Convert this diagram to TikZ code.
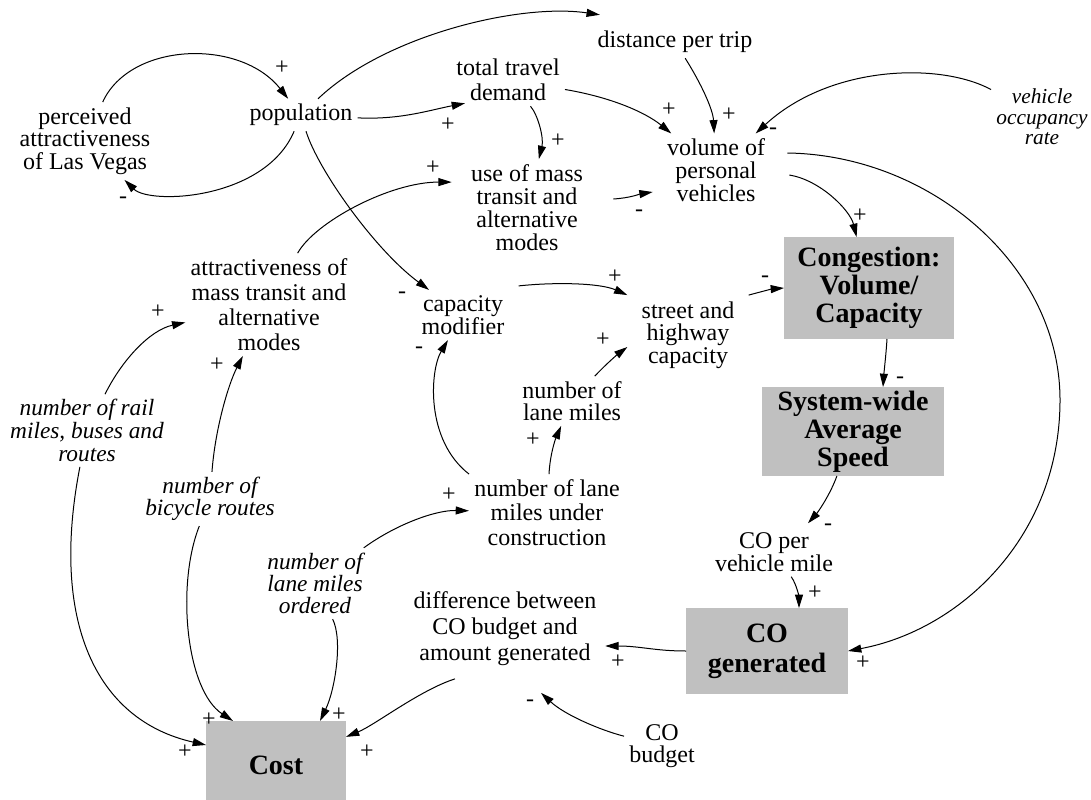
\documentclass[tikz,border=0pt]{standalone}
\usepackage{fontspec}
\setmainfont{Liberation Serif}
\usetikzlibrary{arrows.meta}
\definecolor{boxgray}{HTML}{C0C0C0}
\tikzset{
  lbl/.style={font=\fontsize{18}{#1}\selectfont, align=center, inner sep=1pt, outer sep=3pt},
  ilbl/.style={font=\fontsize{17.5}{#1}\selectfont\itshape, align=center, inner sep=1pt, outer sep=3pt},
  gbox/.style={fill=boxgray, font=\fontsize{21}{#1}\selectfont\bfseries, align=center, inner sep=0pt, outer sep=0pt},
  sgn/.style={font=\fontsize{18}{18}\selectfont, inner sep=0pt},
  arr/.style={-{Triangle[length=10pt,width=6pt]}, line width=0.75pt},
}
\begin{document}
\begin{tikzpicture}[x=0.75pt,y=-0.75pt]
\useasboundingbox (0,0) rectangle (1091,799);
% text nodes
\node[lbl=17] (pav) at (85,141) {perceived\\attractiveness\\of Las Vegas};
\node[lbl=18] (pop) at (301,115) {population};
\node[lbl=18] (dpt) at (675,42) {distance per trip};
\node[lbl=18.75] (ttd) at (508,80) {total travel\\demand};
\node[lbl=17] (vol) at (716,170) {volume of\\personal\\vehicles};
\node[ilbl=15.5, font=\fontsize{16}{15.5}\selectfont\itshape] (vor) at (1042,117) {vehicle\\occupancy\\rate};
\node[lbl=17.25] (use) at (527,207.5) {use of mass\\transit and\\alternative\\modes};
\node[lbl=18.75] (attr) at (269,304.5) {attractiveness of\\mass transit and\\alternative\\modes};
\node[lbl=16] (capmod) at (463,315) {capacity\\modifier};
\node[lbl=17] (street) at (688,335) {street and\\highway\\capacity};
\node[lbl=16.5] (lanemiles) at (572,401) {number of\\lane miles};
\node[lbl=18.4] (constr) at (547,512.5) {number of lane\\miles under\\construction};
\node[ilbl=17] (rail) at (87,430.5) {number of rail\\miles, buses and\\routes};
\node[ilbl=16.5] (bike) at (210,499) {number of\\bicycle routes};
\node[ilbl=16.5] (ordered) at (315,583.5) {number of\\lane miles\\ordered};
\node[lbl=19.5] (diff) at (505,628.5) {difference between\\CO budget and\\amount generated};
\node[lbl=17] (copvm) at (774,552) {CO per\\vehicle mile};
\node[lbl=16.5] (budget) at (662,746) {CO\\budget};
% boxes
\node[gbox=21, minimum width=127.5pt, minimum height=76.5pt] (cong) at (869,288) {Congestion:\\Volume/\\Capacity};
\node[gbox=21, minimum width=136.5pt, minimum height=66.75pt] (sys) at (853,431.5) {System-wide\\Average\\Speed};
\node[gbox=22.5, minimum width=121.5pt, minimum height=64.5pt] (cog) at (767,651) {CO\\generated};
\node[gbox=21, minimum width=105pt, minimum height=66.75pt] (cost) at (276,765.5) {Cost};
% connectors
\draw[arr] (pav) .. controls (130,42) and (240,38) .. (pop);
\draw[arr] (pop) .. controls (265,200) and (150,205) .. (pav);
\draw[arr] (pop) .. controls (385,35) and (520,3) .. ([shift={(7.5,-11)}]dpt.north west);
\draw[arr] (pop) .. controls (400,120) and (430,110) .. ([shift={(14,-3)}]ttd.south west);
\draw[arr] (pop) .. controls (318,170) and (375,250) .. (capmod);
\draw[arr] (attr) .. controls (315,222) and (390,182) .. ([shift={(-14,23)}]use.north west);
\draw[arr] (ttd) .. controls (538,115) and (544,138) .. (use);
\draw[arr] (ttd) .. controls (610,97) and (645,112) .. (vol);
\draw[arr] (dpt) .. controls (702,85) and (713,110) .. (vol);
\draw[arr] (vor) .. controls (940,62) and (830,65) .. (vol);
\draw[arr] ([shift={(25,-8.5)}]use.east) .. controls (630,198) and (640,194) .. ([shift={(-9,22)}]vol.west);
\draw[arr] ([shift={(19,5)}]vol.east) .. controls (820,180) and (850,210) .. (cong);
\coordinate (arcR) at (1060,400);
\draw[arr] ([shift={(17,-17)}]vol.east) .. controls (930,155) and (1060,265) .. (arcR) .. controls (1060,537) and (960,630) .. (cog.east);
\draw[arr] (rail) .. controls (122,360) and (150,330) .. (attr);
\draw[arr] (bike) .. controls (215,430) and (228,385) .. (attr);
\draw[arr] (constr.north west) .. controls (425,440) and (430,370) .. (capmod);
\draw[arr] ([shift={(9,-4)}]capmod.north east) .. controls (555,282) and (600,283) .. ([shift={(-9,-1)}]street.north west);
\draw[arr] (lanemiles) .. controls (605,365) and (618,354) .. ([shift={(-9,12)}]street.west);
\draw[arr] (constr) .. controls (550,455) and (555,440) .. (lanemiles);
\draw[arr] (ordered) .. controls (395,525) and (435,510) .. (constr);
\draw[arr] ([shift={(9,-1)}]street.north east) .. controls (760,292) and (772,289) .. (cong.west);
\draw[arr] ([shift={(18,0)}]cong.south) .. controls (886,355) and (884,372) .. ([shift={(30,0)}]sys.north);
\draw[arr] (sys) .. controls (830,495) and (818,512) .. ([shift={(34,-4)}]copvm.north);
\draw[arr] (copvm) .. controls (797,585) and (799,598) .. ([shift={(32,0)}]cog.north);
\draw[arr] (cog.west) .. controls (655,651) and (640,646) .. ([shift={(3.5,17.5)}]diff.east);
\draw[arr] (budget) .. controls (600,730) and (565,715) .. ([shift={(36,22)}]diff.south);
\draw[arr] ([shift={(-50,8)}]diff.south) .. controls (420,690) and (375,725) .. (cost);
\draw[arr] (ordered) .. controls (343,640) and (335,690) .. ([shift={(44,0)}]cost.north);
\draw[arr] (bike) .. controls (176,585) and (186,690) .. ([shift={(27,0)}]cost.north west);
\draw[arr] (rail) .. controls (50,620) and (95,720) .. ([shift={(0,-20.5)}]cost.west);
% polarity signs
\node[sgn] (s1) at (282,68) {+};
\node[sgn] (s2) at (123,200) {-};
\node[sgn] (s4) at (448,125) {+};
\node[sgn] (s5) at (402,295) {-};
\node[sgn] (s6) at (433,168) {+};
\node[sgn] (s7) at (558,141) {+};
\node[sgn] (s8) at (669,110) {+};
\node[sgn] (s9) at (729,115) {+};
\node[sgn] (s10) at (773,131) {-};
\node[sgn] (s11) at (639,213) {-};
\node[sgn] (s12) at (860,216) {+};
\node[sgn] (s13) at (863,663) {+};
\node[sgn] (s14) at (158,312) {+};
\node[sgn] (s15) at (217,365) {+};
\node[sgn] (s16) at (419,350) {-};
\node[sgn] (s17) at (615,277) {+};
\node[sgn] (s18) at (603,340) {+};
\node[sgn] (s19) at (533,440) {+};
\node[sgn] (s20) at (449,495) {+};
\node[sgn] (s21) at (765,279) {-};
\node[sgn] (s22) at (900,380) {-};
\node[sgn] (s23) at (828,527) {-};
\node[sgn] (s24) at (815,593) {+};
\node[sgn] (s25) at (618,662) {+};
\node[sgn] (s26) at (530,703) {-};
\node[sgn] (s27) at (367,752) {+};
\node[sgn] (s28) at (339,715) {+};
\node[sgn] (s29) at (209,720) {+};
\node[sgn] (s30) at (185,752) {+};
\end{tikzpicture}
\end{document}
